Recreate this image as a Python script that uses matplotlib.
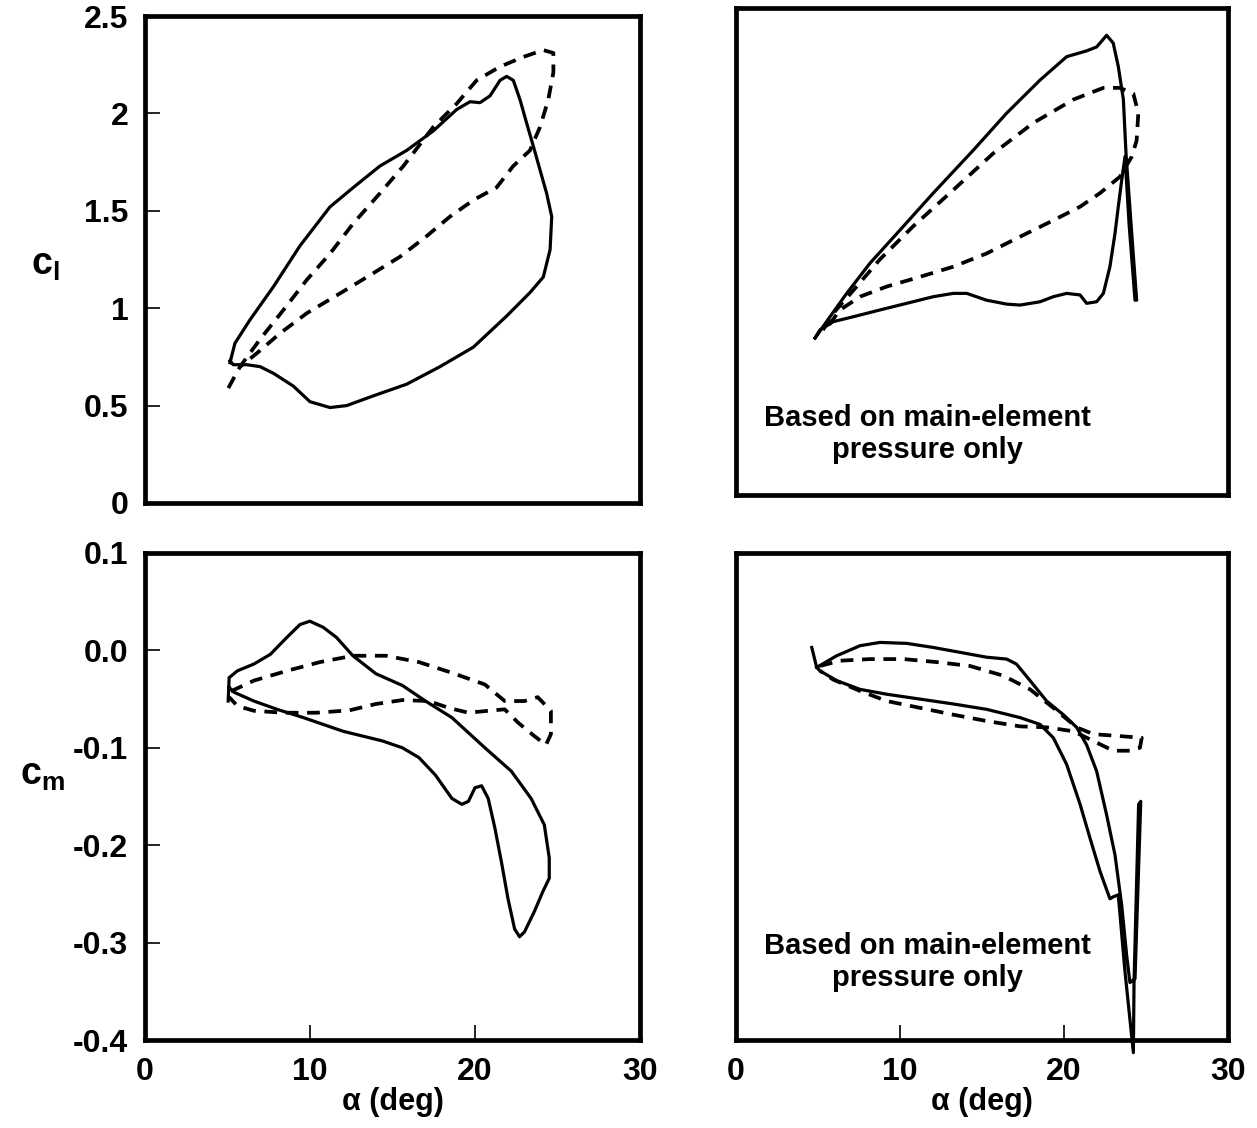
import matplotlib
matplotlib.use("Agg")
import matplotlib.pyplot as plt

plt.rcParams['font.family'] = ['Liberation Sans', 'DejaVu Sans']
plt.rcParams['font.weight'] = 'bold'
plt.rcParams['mathtext.fontset'] = 'custom'
plt.rcParams['mathtext.rm'] = 'Liberation Sans:bold'
plt.rcParams['mathtext.bf'] = 'Liberation Sans:bold'
plt.rcParams['mathtext.it'] = 'Liberation Sans:bold'

# --- cl, total (top left) ---
cl_tot_solid_a = [5.15, 5.45, 6.36, 7.78, 9.39, 11.21, 12.63, 14.24, 15.86, 17.47, 18.89, 19.70,
                  20.30, 20.91, 21.52, 21.92, 22.32, 22.73, 23.13, 23.54, 23.94, 24.34, 24.65,
                  24.55, 24.14, 23.33, 21.92, 19.90, 17.88, 15.86, 13.84, 12.22, 11.21, 10.0,
                  8.99, 7.78, 6.97, 6.16, 5.35, 5.15]
cl_tot_solid = [0.72, 0.82, 0.94, 1.11, 1.32, 1.52, 1.62, 1.73, 1.81, 1.91, 2.02, 2.06,
                2.055, 2.09, 2.17, 2.19, 2.17, 2.07, 1.95, 1.83, 1.71, 1.59, 1.47,
                1.30, 1.16, 1.08, 0.96, 0.80, 0.70, 0.61, 0.55, 0.50, 0.49, 0.52,
                0.60, 0.666, 0.70, 0.71, 0.71, 0.73]
cl_tot_dash_a = [5.05, 5.76, 6.97, 8.38, 9.80, 11.21, 12.63, 14.24, 15.66, 17.47, 18.89, 20.1,
                 21.52, 22.93, 24.14, 24.75, 24.75, 24.44, 23.94, 23.33, 22.32, 21.31, 19.9,
                 18.48, 17.07, 15.45, 13.84, 11.82, 9.80, 8.18, 6.77, 5.76]
cl_tot_dash = [0.59, 0.70, 0.84, 0.99, 1.145, 1.28, 1.436, 1.59, 1.73, 1.93, 2.05, 2.17,
               2.24, 2.29, 2.325, 2.31, 2.21, 2.07, 1.93, 1.81, 1.73, 1.62, 1.555,
               1.47, 1.37, 1.264, 1.18, 1.076, 0.974, 0.871, 0.768, 0.70]

# --- cl, main element only (top right) ---
cl_main_solid_a = [4.82, 5.73, 6.75, 8.17, 10.0, 12.03, 14.47, 16.5, 18.54, 20.16, 21.38, 21.99,
                   22.6, 23.0, 23.31, 23.62, 23.78, 24.13, 24.43, 24.33, 23.98, 23.72, 23.52,
                   23.31, 23.11, 22.8, 22.4, 21.99, 21.38, 20.98, 20.16, 19.35, 18.54, 17.32,
                   16.5, 15.28, 14.07, 13.25, 12.03, 10.41, 8.78, 7.15, 5.93, 5.12, 4.82]
cl_main_solid = [0.806, 0.915, 1.035, 1.19, 1.36, 1.55, 1.77, 1.96, 2.13, 2.25, 2.28, 2.30,
                 2.36, 2.32, 2.20, 2.03, 1.754, 1.343, 1.0, 1.0, 1.377, 1.737, 1.617,
                 1.48, 1.343, 1.172, 1.035, 0.992, 0.984, 1.027, 1.035, 1.018, 0.992, 0.975,
                 0.98, 1.0, 1.035, 1.035, 1.018, 0.984, 0.95, 0.915, 0.89, 0.847, 0.806]
cl_main_dash_a = [5.3, 5.9, 7.15, 8.78, 10.81, 13.25, 15.69, 18.13, 20.57, 22.4, 23.41, 24.23,
                  24.53, 24.43, 24.13, 23.41, 22.2, 20.98, 19.35, 17.32, 15.28, 13.25, 11.22,
                  9.19, 7.56, 6.34, 5.73, 5.3]
cl_main_dash = [0.847, 0.93, 1.05, 1.21, 1.38, 1.566, 1.754, 1.91, 2.03, 2.09, 2.09, 2.06,
                1.96, 1.82, 1.737, 1.634, 1.55, 1.48, 1.41, 1.326, 1.24, 1.172, 1.12,
                1.07, 1.018, 0.95, 0.88, 0.847]

# --- cm, total (bottom left) ---
cm_tot_solid_a = [5.04, 5.10, 5.6, 6.6, 7.6, 8.6, 9.39, 9.99, 10.8, 11.6, 12.6, 14.0, 15.6,
                  17.0, 18.6, 20.6, 22.2, 23.4, 24.2, 24.5, 24.5, 24.1, 23.6, 23.0, 22.7,
                  22.4, 22.0, 21.6, 21.2, 20.8, 20.4, 20.0, 19.6, 19.2, 18.6, 17.6, 16.6,
                  15.6, 14.4, 13.2, 12.0, 10.8, 9.6, 8.0, 6.6, 5.4, 5.1]
cm_tot_solid = [-0.052, -0.028, -0.021, -0.014, -0.004, 0.0134, 0.0265, 0.030, 0.0237, 0.0134,
                -0.0055, -0.024, -0.036, -0.052, -0.069, -0.10, -0.124, -0.152, -0.179, -0.213,
                -0.234, -0.248, -0.268, -0.289, -0.294, -0.286, -0.255, -0.217, -0.182, -0.152,
                -0.139, -0.141, -0.155, -0.158, -0.152, -0.128, -0.110, -0.10, -0.093, -0.088,
                -0.083, -0.076, -0.069, -0.0605, -0.052, -0.043, -0.038]
cm_tot_dash_a = [5.2, 6.6, 8.6, 10.6, 12.6, 14.6, 16.6, 18.6, 20.6, 21.8, 23.0, 23.8, 24.6,
                 24.6, 24.3, 23.6, 22.6, 21.8, 20.8, 19.6, 18.4, 17.2, 15.6, 14.0, 12.4,
                 10.4, 8.4, 6.6, 5.6, 5.1]
cm_tot_dash = [-0.042, -0.031, -0.021, -0.012, -0.0055, -0.0055, -0.012, -0.023, -0.035, -0.052,
               -0.052, -0.048, -0.062, -0.086, -0.097, -0.088, -0.074, -0.0605, -0.062, -0.064,
               -0.059, -0.052, -0.051, -0.055, -0.0615, -0.064, -0.064, -0.062, -0.057, -0.048]

# --- cm, main element only (bottom right) ---
cm_main_solid_a = [4.62, 4.92, 6.14, 7.56, 8.78, 10.41, 12.03, 13.66, 15.28, 16.5, 17.1, 17.93,
                   18.94, 19.96, 20.77, 21.38, 21.99, 22.6, 23.11, 23.52, 23.82, 24.02, 24.33,
                   24.68, 24.55, 24.27, 24.23, 23.72, 23.31, 23.0, 22.8, 22.2, 21.59, 20.98,
                   20.16, 19.35, 18.54, 17.32, 15.28, 13.25, 11.22, 9.19, 7.56, 6.14, 5.12, 4.92]
cm_main_solid = [0.003, -0.0175, -0.0055, 0.0048, 0.0082, 0.0072, 0.003, -0.002, -0.007, -0.0089,
                 -0.014, -0.031, -0.052, -0.066, -0.079, -0.097, -0.124, -0.169, -0.21, -0.262,
                 -0.313, -0.341, -0.337, -0.155, -0.158, -0.341, -0.413, -0.33, -0.251, -0.253,
                 -0.255, -0.227, -0.193, -0.158, -0.117, -0.0897, -0.076, -0.069, -0.0605, -0.055,
                 -0.050, -0.045, -0.040, -0.031, -0.021, -0.0175]
cm_main_dash_a = [5.12, 6.34, 8.17, 10.2, 12.24, 14.27, 16.3, 17.93, 19.35, 20.77, 21.79, 23.41,
                  24.74, 24.63, 24.02, 23.0, 21.79, 20.57, 18.94, 17.32, 15.28, 13.25, 11.22,
                  9.19, 7.56, 5.93, 5.12]
cm_main_dash = [-0.016, -0.0106, -0.0089, -0.0089, -0.012, -0.016, -0.026, -0.040, -0.059, -0.079,
                -0.086, -0.088, -0.0897, -0.10, -0.103, -0.103, -0.093, -0.083, -0.079, -0.078,
                -0.0725, -0.066, -0.059, -0.052, -0.0416, -0.030, -0.021]

cl_ticks = [0, 0.5, 1, 1.5, 2, 2.5]
cl_labels = ['0', '0.5', '1', '1.5', '2', '2.5']
cm_ticks = [-0.4, -0.3, -0.2, -0.1, 0.0, 0.1]
cm_labels = ['-0.4', '-0.3', '-0.2', '-0.1', '0.0', '0.1']
a_ticks = [0, 10, 20, 30]
note = 'Based on main-element\npressure only'

W, H = 1257, 1128
fig = plt.figure(figsize=(W / 100, H / 100), dpi=100)

def box(l, b, w, h):
    ax = fig.add_axes([l / W, 1 - b / H, w / W, h / H])
    for s in ax.spines.values():
        s.set_linewidth(3.4)
    ax.set_xlim(0, 30)
    ax.tick_params(direction='in', length=11, width=1.2, labelsize=23, pad=12,
                   top=False, right=False)
    return ax

solid = dict(color='black', lw=2.3, solid_joinstyle='round')
dash = dict(color='black', lw=2.7, ls=(0, (3.4, 2.3)))

ax1 = box(145, 503, 495, 487)
ax1.plot(cl_tot_solid_a, cl_tot_solid, **solid)
ax1.plot(cl_tot_dash_a, cl_tot_dash, **dash)
ax1.set_ylim(0, 2.5)
ax1.set_yticks(cl_ticks, cl_labels)
ax1.set_xticks([])

ax2 = box(736, 495, 492, 487)
ax2.plot(cl_main_solid_a, cl_main_solid, **solid)
ax2.plot(cl_main_dash_a, cl_main_dash, **dash)
ax2.set_ylim(0, 2.5)
ax2.set_xticks([])
ax2.set_yticks([])
ax2.text(0.39, 0.125, note, transform=ax2.transAxes, ha='center', va='center',
         fontsize=21, fontweight='bold', linespacing=1.15)

ax3 = box(145, 1040, 495, 487)
ax3.plot(cm_tot_solid_a, cm_tot_solid, **solid)
ax3.plot(cm_tot_dash_a, cm_tot_dash, **dash)
ax3.set_ylim(-0.4, 0.1)
ax3.set_yticks(cm_ticks, cm_labels)
ax3.set_xticks(a_ticks, [str(t) for t in a_ticks])
ax3.set_xlabel('α (deg)', fontsize=22, fontweight='bold', labelpad=0)

ax4 = box(736, 1040, 492, 487)
ax4.plot(cm_main_solid_a, cm_main_solid, clip_on=False, **solid)
ax4.plot(cm_main_dash_a, cm_main_dash, **dash)
ax4.set_ylim(-0.4, 0.1)
ax4.set_yticks([])
ax4.set_xticks(a_ticks, [str(t) for t in a_ticks])
ax4.set_xlabel('α (deg)', fontsize=22, fontweight='bold', labelpad=0)
ax4.text(0.39, 0.16, note, transform=ax4.transAxes, ha='center', va='center',
         fontsize=21, fontweight='bold', linespacing=1.15)

fig.text(45 / W, 1 - 265 / H, r'$\mathbf{c_l}$', fontsize=27, ha='center', va='center')
fig.text(42 / W, 1 - 775 / H, r'$\mathbf{c_m}$', fontsize=27, ha='center', va='center')

fig.savefig('out.png', dpi=100, facecolor='white')
